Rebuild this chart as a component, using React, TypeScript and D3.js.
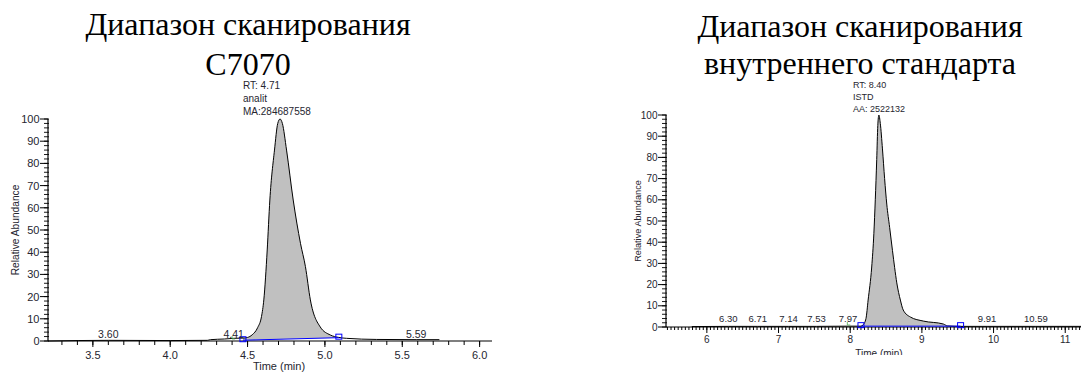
import React from 'react';
import * as d3 from 'd3';

// chromatogram of the analyte (C7070)
const LEFT_TIME = [3.21, 3.6, 4.0, 4.24, 4.26, 4.35, 4.41, 4.47, 4.5, 4.53, 4.565, 4.59, 4.605, 4.627, 4.644, 4.674, 4.695, 4.71, 4.725, 4.752, 4.795, 4.842, 4.874, 4.906, 4.97, 5.035, 5.09, 5.14, 5.335, 5.59, 5.74];
const LEFT_ABUND = [0, 0.3, 0.2, 0.3, 0.6, 0.9, 1.2, 1.3, 1.6, 2.8, 6, 11, 18.5, 41, 63.5, 86, 98, 100, 98, 86, 63.5, 44, 33.5, 18.5, 6.3, 2.7, 1.6, 1.2, 0.7, 0.6, 0.6];
const LEFT_PEAKS = [3.6, 4.41, 5.59];
const LEFT_X_TICKS = [3.5, 4.0, 4.5, 5.0, 5.5, 6.0];
const LEFT_BASELINE = [4.47, 5.09];
const LEFT_BASELINE_LEVEL = [0.35, 1.5];
const LEFT_NOTE = ['RT: 4.71', 'analit', 'MA:284687558'];
const LEFT_GREEN = [4.4];

// chromatogram of the internal standard
const RIGHT_TIME = [5.79, 6.3, 6.71, 7.14, 7.53, 7.97, 8.15, 8.18, 8.22, 8.25, 8.3, 8.33, 8.35, 8.37, 8.385, 8.4, 8.42, 8.45, 8.48, 8.51, 8.55, 8.59, 8.62, 8.65, 8.7, 8.74, 8.84, 9.02, 9.3, 9.36, 9.54, 9.91, 10.59, 11.22];
const RIGHT_ABUND = [0.2, 0.3, 0.3, 0.3, 0.3, 0.4, 0.4, 1, 4, 12.7, 28.3, 44, 60, 79, 95, 100, 96, 84, 70, 58, 47, 36, 28, 20.8, 12.7, 8, 4.7, 2.8, 1.4, 0.5, 0.3, 0.3, 0.3, 0.3];
const RIGHT_PEAKS = [6.3, 6.71, 7.14, 7.53, 7.97, 9.91, 10.59];
const RIGHT_X_TICKS = [6, 7, 8, 9, 10, 11];
const RIGHT_BASELINE = [8.15, 9.54];
const RIGHT_BASELINE_LEVEL = [0.4, 0.4];
const RIGHT_NOTE = ['RT: 8.40', 'ISTD', 'AA: 2522132'];
const RIGHT_GREEN = [7.96];

const Y_TICKS = [0, 10, 20, 30, 40, 50, 60, 70, 80, 90, 100];

const SERIF = "'Times New Roman', 'Liberation Serif', serif";
const SANS = "Arial, 'Liberation Sans', sans-serif";
const TEXT = '#262630';

type ChartProps = {
  time: number[];
  abund: number[];
  peaks: number[];
  xTicks: number[];
  baseline: number[];
  baseLevel: number[];
  note: string[];
  green: number[];
  domain: [number, number];
  minorStep: number;
  left: number;
  right: number;
  bottom: number;
  top: number;
  font: number;
  noteX: number;
  noteY: number;
  noteGap: number;
  peakLabelY: number;
  tickLabelY: number;
  titleX: number;
  titleY: number;
  yTitleX: number;
  digits: number;
  clipBottom: number;
};

function Chromatogram(p: ChartProps) {
  const x = d3.scaleLinear().domain(p.domain).range([p.left, p.right]);
  const y = d3.scaleLinear().domain([0, 100]).range([p.bottom, p.top]);
  const pts: [number, number][] = p.time.map((t, i) => [t, p.abund[i]]);

  const line = d3.line<[number, number]>().x(d => x(d[0])).y(d => y(d[1])).curve(d3.curveMonotoneX);

  const baseAt = d3.scaleLinear().domain(p.baseline).range(p.baseLevel);
  const inPeak = pts.filter(d => d[0] >= p.baseline[0] && d[0] <= p.baseline[1]);
  const area = d3.area<[number, number]>()
    .x(d => x(d[0]))
    .y0(d => y(baseAt(d[0])))
    .y1(d => y(d[1]))
    .curve(d3.curveMonotoneX);

  const k = 1 / p.minorStep;
  const minorX = d3.range(Math.ceil(p.domain[0] * k), Math.floor(p.domain[1] * k) + 1).map(v => v / k);
  const minorY = d3.range(0, 101, 2);
  const clipId = 'clip' + Math.round(p.left);

  return (
    <g>
      <defs>
        <clipPath id={clipId}>
          <rect x={0} y={0} width={1081} height={p.clipBottom} />
        </clipPath>
      </defs>
      {/* y axis */}
      <line x1={p.left} x2={p.left} y1={p.top} y2={p.bottom} stroke="#000" strokeWidth={1.2} />
      {minorY.map(v => (
        <line key={'my' + v} x1={p.left - 4} x2={p.left + 1} y1={y(v)} y2={y(v)} stroke="#000" strokeWidth={0.9} />
      ))}
      {Y_TICKS.map(v => (
        <g key={'y' + v}>
          <line x1={p.left - 8} x2={p.left} y1={y(v)} y2={y(v)} stroke="#000" strokeWidth={1} />
          <text x={p.left - 8.5} y={y(v) + p.font * 0.36} textAnchor="end" fontFamily={SANS} fontSize={p.font} fill={TEXT}>{v}</text>
        </g>
      ))}
      <text transform={`translate(${p.yTitleX},${(p.top + p.bottom) / 2}) rotate(-90)`} textAnchor="middle"
        fontFamily={SANS} fontSize={p.font - 0.8} fill={TEXT}>Relative Abundance</text>

      {/* x axis */}
      <line x1={p.left} x2={p.right} y1={p.bottom} y2={p.bottom} stroke="#000" strokeWidth={1.2} />
      {minorX.map(v => (
        <line key={'mx' + v} x1={x(v)} x2={x(v)} y1={p.bottom} y2={p.bottom + (p.minorStep < 0.1 ? 3 : 4)} stroke="#000" strokeWidth={1} />
      ))}
      {p.xTicks.map(v => (
        <g key={'x' + v}>
          <line x1={x(v)} x2={x(v)} y1={p.bottom} y2={p.bottom + 6} stroke="#000" strokeWidth={1} />
          <text x={x(v)} y={p.tickLabelY} textAnchor="middle" fontFamily={SANS} fontSize={p.font} fill={TEXT}>
            {v.toFixed(p.digits)}
          </text>
        </g>
      ))}
      <text x={p.titleX} y={p.titleY} textAnchor="middle" fontFamily={SANS} fontSize={p.font} fill={TEXT}
        clipPath={`url(#${clipId})`}>Time (min)</text>

      {/* peak area and trace */}
      <path d={area(inPeak) || ''} fill="#c0c0c0" stroke="none" />
      <path d={line(pts) || ''} fill="none" stroke="#000" strokeWidth={1} />
      <line x1={x(p.baseline[0])} x2={x(p.baseline[1])} y1={y(p.baseLevel[0])} y2={y(p.baseLevel[1])} stroke="#0000ff" strokeWidth={1} />
      {p.baseline.map((t, i) => (
        <rect key={'b' + i} x={x(t) - 3} y={y(p.baseLevel[i]) - 3.5} width={6} height={5} fill="none" stroke="#0000ff" strokeWidth={1} />
      ))}
      {p.green.map(t => (
        <path key={'g' + t} d={`M${x(t)},${p.bottom - 5}v3h3`} fill="none" stroke="#4caf50" strokeWidth={0.8} />
      ))}

      {/* peak labels */}
      {p.peaks.map(t => (
        <text key={'p' + t} x={x(t)} y={p.peakLabelY} textAnchor="middle" fontFamily={SANS} fontSize={p.font - 0.5} fill={TEXT}>
          {t.toFixed(2)}
        </text>
      ))}

      {/* apex annotation */}
      {p.note.map((s, i) => (
        <text key={'n' + i} x={p.noteX} y={p.noteY + i * p.noteGap} fontFamily={SANS} fontSize={p.font - 1} fill={TEXT}>{s}</text>
      ))}
    </g>
  );
}

export default function App() {
  return (
    <svg width={1081} height={372} style={{ position: 'absolute', left: 0, top: 0, background: '#fff' }}>
      <text x={248} y={35} textAnchor="middle" fontFamily={SERIF} fontSize={32} fill="#000">Диапазон сканирования</text>
      <text x={248} y={75} textAnchor="middle" fontFamily={SERIF} fontSize={32} fill="#000">C7070</text>
      <text x={860} y={36.5} textAnchor="middle" fontFamily={SERIF} fontSize={32} fill="#000">Диапазон сканирования</text>
      <text x={860} y={73.5} textAnchor="middle" fontFamily={SERIF} fontSize={32} fill="#000">внутреннего стандарта</text>

      <Chromatogram time={LEFT_TIME} abund={LEFT_ABUND} peaks={LEFT_PEAKS} xTicks={LEFT_X_TICKS}
        baseline={LEFT_BASELINE} baseLevel={LEFT_BASELINE_LEVEL} note={LEFT_NOTE} green={LEFT_GREEN}
        domain={[3.21, 6.08]} minorStep={0.1} left={48} right={492} bottom={341} top={119} font={11}
        noteX={243} noteY={89} noteGap={13} peakLabelY={338} tickLabelY={359}
        titleX={279} titleY={369.5} yTitleX={19} digits={1} clipBottom={372} />

      <Chromatogram time={RIGHT_TIME} abund={RIGHT_ABUND} peaks={RIGHT_PEAKS} xTicks={RIGHT_X_TICKS}
        baseline={RIGHT_BASELINE} baseLevel={RIGHT_BASELINE_LEVEL} note={RIGHT_NOTE} green={RIGHT_GREEN}
        domain={[5.43, 11.22]} minorStep={0.05} left={666} right={1081} bottom={327} top={115} font={10}
        noteX={853} noteY={88} noteGap={12} peakLabelY={322} tickLabelY={343}
        titleX={879} titleY={357} yTitleX={641} digits={0} clipBottom={355} />
    </svg>
  );
}
